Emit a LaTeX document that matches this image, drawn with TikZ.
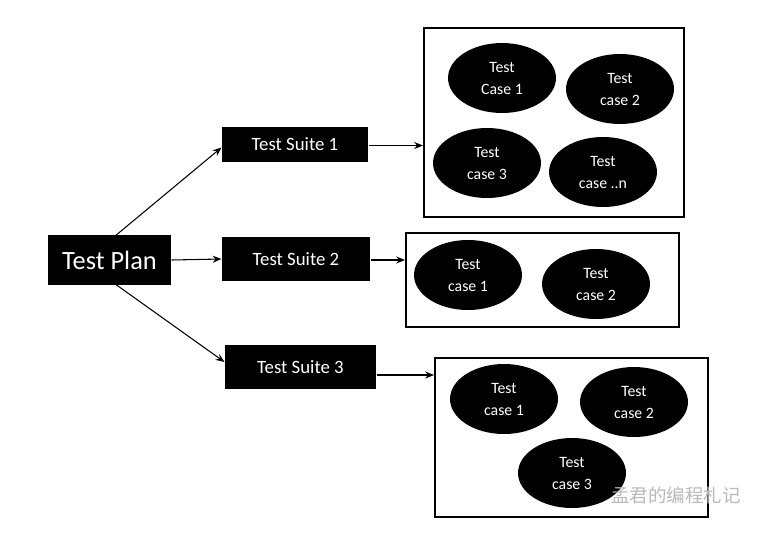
\documentclass[tikz,border=0pt]{standalone}
\usepackage{fontspec}
\setmainfont{Carlito}
\newfontfamily\cjk{Noto Sans CJK SC}
\usepackage{tikz}
\usetikzlibrary{arrows.meta,shapes.geometric,positioning,calc}
\tikzset{every picture/.style={line width=0.6pt}}
\tikzset{
  blackbox/.style={fill=black, text=white, inner sep=0pt, font=\fontsize{10.7}{12}\selectfont},
  testcase/.style={ellipse, fill=black, text=white, align=center, inner sep=0pt,
    minimum width=2.16cm, minimum height=1.4cm, font=\fontsize{9}{12.5}\selectfont},
  casebox/.style={draw=black, line width=1.2pt, inner sep=0pt},
  link/.style={-{Stealth[length=5pt,width=4pt]}, line width=0.6pt}
}

\begin{document}
\begin{tikzpicture}[x=0.02cm, y=-0.02cm]
    \useasboundingbox (0,0) rectangle (764,532);

    % 测试计划
    \node[blackbox, minimum width=2.46cm, minimum height=1cm,
          font=\fontsize{15}{17}\selectfont] (plan) at (109.5,260) {Test Plan};

    % 测试套件
    \node[blackbox, minimum width=2.92cm, minimum height=0.7cm] (s1) at (295,144.5) {Test Suite 1};
    \node[blackbox, minimum width=2.96cm, minimum height=0.88cm] (s2) at (296,259) {Test Suite 2};
    \node[blackbox, minimum width=3.02cm, minimum height=0.88cm] (s3) at (300.5,367) {Test Suite 3};

    % 用例框
    \node[casebox, minimum width=5.2cm, minimum height=3.78cm] (box1) at (554,122.5) {};
    \node[casebox, minimum width=5.46cm, minimum height=1.88cm] (box2) at (542.5,280) {};
    \node[casebox, minimum width=5.46cm, minimum height=3.18cm] (box3) at (571.5,437.5) {};

    % 测试用例
    \node[testcase] (c11) at (502,78) {Test\\Case 1};
    \node[testcase] (c12) at (620,89) {Test\\case 2};
    \node[testcase] (c13) at (487,163) {Test\\case 3};
    \node[testcase] (c14) at (603,172) {Test\\case ..n};

    \node[testcase] (c21) at (468,275) {Test\\case 1};
    \node[testcase] (c22) at (596,284) {Test\\case 2};

    \node[testcase] (c31) at (504,399) {Test\\case 1};
    \node[testcase] (c32) at (634,402) {Test\\case 2};
    \node[testcase] (c33) at (572,473) {Test\\case 3};

    % 连线
    \draw[link] ($(plan.north)+(5,2)$) -- ($(s1.west)+(0,3)$);
    \draw[link] (plan.east) -- (s2.west);
    \draw[link] ($(plan.south)+(5,-2)$) -- ($(s3.west)+(0,-5)$);

    \coordinate (o1) at ($(s1.east)+(0,1)$);
    \coordinate (o2) at ($(s2.east)+(0,1)$);
    \coordinate (o3) at ($(s3.east)+(0,8)$);
    \draw[link] (o1) -- (o1 -| box1.west);
    \draw[link] (o2) -- (o2 -| box2.west);
    \draw[link] (o3) -- (o3 -| box3.west);

    % 水印
    \node[text=gray!55, font=\cjk\fontsize{10.5}{12}\selectfont] (mark) at (676,495) {孟君的编程札记};
\end{tikzpicture}
\end{document}
